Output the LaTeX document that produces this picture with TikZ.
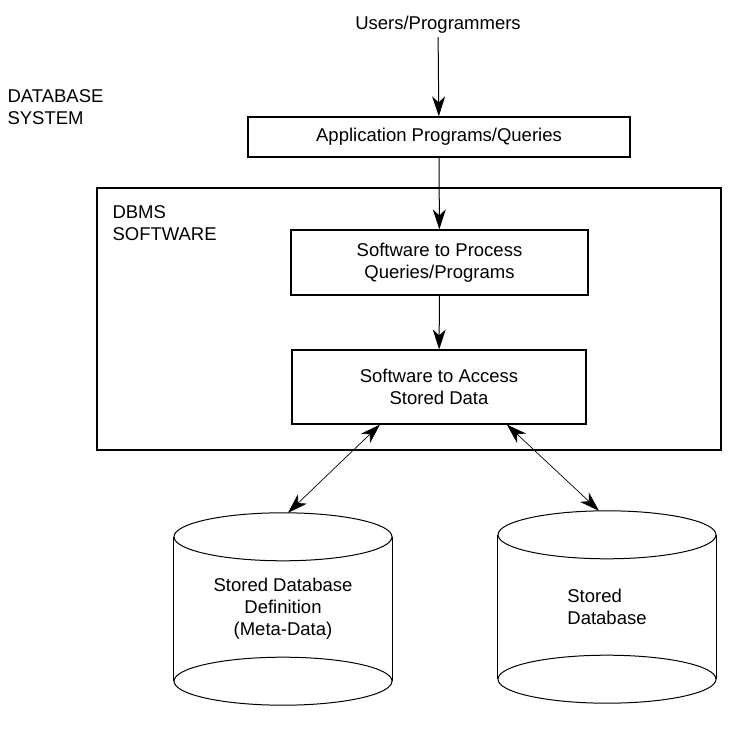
\documentclass[tikz,border=0pt]{standalone}
\usepackage{fontspec}
\setmainfont{Liberation Sans}
\usetikzlibrary{arrows.meta,calc}
\begin{document}
\begin{tikzpicture}[x=1pt,y=-1pt,
    every node/.style={font=\fontsize{18.5}{22}\selectfont},
    box/.style={draw,line width=1.2pt,inner sep=0pt,align=center},
    flow/.style={-{Stealth[length=20pt,width=13pt,inset=6pt]},line width=1pt},
    link/.style={{Stealth[length=20pt,width=13pt,inset=6pt]}-{Stealth[length=20pt,width=13pt,inset=6pt]},line width=0.7pt}]
  \useasboundingbox (0,0) rectangle (748,735);
  \node (users) at (438,25) {Users/Programmers};
  \node[align=left,anchor=west] (dbsys) at (4,107) {DATABASE\\SYSTEM};
  \node[box,minimum width=382pt,minimum height=40pt] (app) at (439,137) {Application Programs/Queries};
  \node[box,minimum width=624pt,minimum height=262pt] (dbms) at (409,319) {};
  \node[align=left,anchor=west] (dbmssw) at (109,223) {DBMS\\SOFTWARE};
  \node[box,minimum width=297pt,minimum height=65pt] (proc) at (439.5,262.5) {Software to Process\\Queries/Programs};
  \node[box,minimum width=294pt,minimum height=74pt] (access) at (439,387) {Software to Access\\Stored Data};
  \node[minimum width=218pt,minimum height=192pt,inner sep=0pt,align=center] (meta) at (283,609) {Stored Database\\Definition\\(Meta-Data)};
  \node[minimum width=218pt,minimum height=192pt,inner sep=0pt,align=left] (stored) at (607,607) {Stored\\Database};
  \foreach \c in {meta,stored} {
    \draw[line width=1pt] ($(\c.north)+(0,24)$) ellipse [x radius=109pt,y radius=24pt];
    \draw[line width=1pt] ($(\c.south)+(0,-24)$) ellipse [x radius=109pt,y radius=24pt];
    \draw[line width=1pt] ($(\c.north west)+(0,24)$) -- ($(\c.south west)+(0,-24)$);
    \draw[line width=1pt] ($(\c.north east)+(0,24)$) -- ($(\c.south east)+(0,-24)$);
  }
  \begin{scope}[flow]
    \draw (users) to (app);
    \draw (app) to (proc);
    \draw (proc) to (access);
  \end{scope}
  \begin{scope}[link]
    \draw ($(access.south west)!0.3!(access.south east)$) to ($(meta.north)+(5,0)$);
    \draw ($(access.south west)!0.73!(access.south east)$) to ($(stored.north)+(-8,0)$);
  \end{scope}
\end{tikzpicture}
\end{document}
